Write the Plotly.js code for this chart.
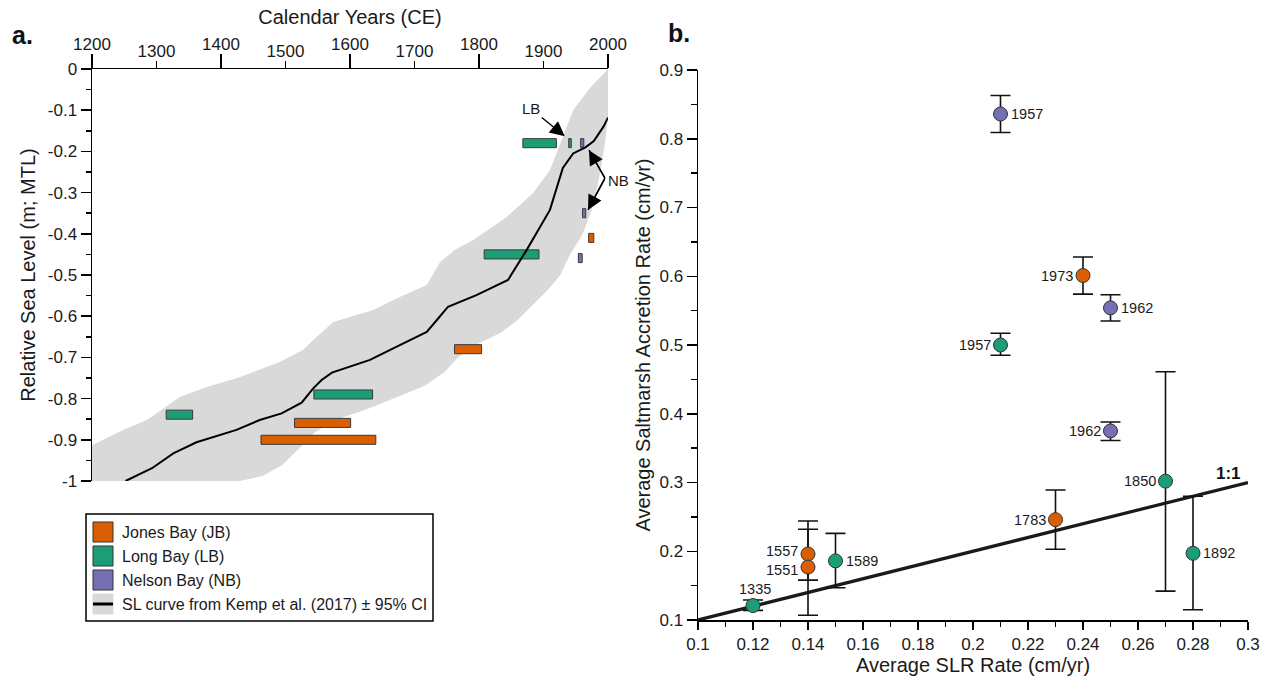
<!DOCTYPE html>
<html><head><meta charset="utf-8">
<script src="https://cdn.plot.ly/plotly-3.0.1.min.js"></script>
<style>html,body{margin:0;padding:0;background:#fff}#chart{width:1270px;height:681px}</style>
</head><body><div id="chart"></div>
<script>
// ---------- Panel a: Kemp et al. (2017) sea-level curve with 95% CI ----------
const curveYears = [1252,1293,1326,1362,1424,1460,1494,1525,1543,1556,1572,1631,1667,1719,1737,1752,1796,1833,1845,1874,1910,1930,1946,1965,1978,1993,2000];
const curveRSL   = [-1.0,-0.969,-0.933,-0.906,-0.876,-0.852,-0.836,-0.810,-0.775,-0.755,-0.737,-0.706,-0.678,-0.638,-0.605,-0.577,-0.549,-0.520,-0.512,-0.439,-0.342,-0.24,-0.205,-0.19,-0.175,-0.14,-0.118];
const ciUpperYears = [1200,1248,1285,1336,1378,1429,1491,1527,1543,1574,1636,1678,1719,1740,1763,1791,1843,1884,1910,1926,1946,1972,2000];
const ciUpperRSL   = [-0.913,-0.876,-0.852,-0.796,-0.772,-0.748,-0.711,-0.682,-0.658,-0.614,-0.585,-0.553,-0.524,-0.468,-0.439,-0.415,-0.359,-0.301,-0.245,-0.180,-0.100,-0.046,0];
const ciLowerYears = [1200,1429,1464,1495,1522,1546,1577,1631,1678,1716,1747,1767,1794,1833,1860,1887,1907,1926,1941,1960,1974,1983,1989,1995,2000];
const ciLowerRSL   = [-1.0,-1.0,-0.988,-0.961,-0.920,-0.881,-0.852,-0.823,-0.794,-0.769,-0.735,-0.701,-0.670,-0.641,-0.609,-0.566,-0.536,-0.500,-0.451,-0.403,-0.345,-0.289,-0.240,-0.184,-0.119];

// Site sea-level index bars (age range, RSL)
const jbStart = [1462,1514,1762,1970];
const jbEnd   = [1640,1601,1804,1978];
const jbRSL   = [-0.900,-0.859,-0.680,-0.410];
const lbStart = [1315,1544,1808,1868,1939];
const lbEnd   = [1356,1635,1893,1920,1943];
const lbRSL   = [-0.839,-0.790,-0.450,-0.180,-0.180];
const nbStart = [1957.5,1960.5,1954];
const nbEnd   = [1962.5,1965.5,1960];
const nbRSL   = [-0.180,-0.350,-0.459];

// Panel a tick labels
const yearTicksMajor = [1200,1400,1600,1800,2000];
const yearTicksMinor = [1300,1500,1700,1900];
const rslTickVals = [0,-0.1,-0.2,-0.3,-0.4,-0.5,-0.6,-0.7,-0.8,-0.9,-1];
const rslTickText = ['0','-0.1','-0.2','-0.3','-0.4','-0.5','-0.6','-0.7','-0.8','-0.9','-1'];

// ---------- Panel b: SLR rate vs accretion rate ----------
const jbSLR   = [0.14,0.14,0.23,0.24];
const jbAcc   = [0.196,0.177,0.246,0.601];
const jbErrUp = [0.048,0.055,0.043,0.027];
const jbErrDn = [0.038,0.070,0.043,0.027];
const jbLabel = ['1557','1551','1783','1973'];
const jbPos   = ['middle left','middle left','middle left','middle left'];

const lbSLR   = [0.12,0.15,0.21,0.27,0.28];
const lbAcc   = [0.121,0.186,0.500,0.302,0.197];
const lbErrUp = [0.008,0.040,0.017,0.159,0.083];
const lbErrDn = [0.007,0.039,0.015,0.160,0.082];
const lbLabel = ['1335','1589','1957','1850','1892'];
const lbPos   = ['top center','middle right','middle left','middle left','middle right'];

const nbSLR   = [0.21,0.25,0.25];
const nbAcc   = [0.836,0.554,0.375];
const nbErrUp = [0.027,0.019,0.013];
const nbErrDn = [0.027,0.019,0.014];
const nbLabel = ['1957','1962','1962'];
const nbPos   = ['middle right','middle right','middle left'];

const oneToOneX = [0.1,0.3];
const oneToOneY = [0.1,0.3];

const legendLabels = ['Jones Bay (JB)','Long Bay (LB)','Nelson Bay (NB)','SL curve from Kemp et al. (2017) \u00b1 95% CI'];

// ---------- styling ----------
const C_JB = '#D95F02', C_LB = '#1B9E77', C_NB = '#7570B3', C_CI = '#D9D9D9';
const FONT = 'Liberation Sans, Arial, sans-serif';
const W = 1270, H = 681;
const px = x => x / W, py = y => 1 - y / H;
const BAR_HALF = 0.011;

const traces = [];
traces.push({
  type:'scatter', mode:'lines', name:'95% CI',
  x: ciUpperYears.concat(ciLowerYears.slice().reverse()),
  y: ciUpperRSL.concat(ciLowerRSL.slice().reverse()),
  fill:'toself', fillcolor:C_CI, line:{width:0, color:C_CI},
  xaxis:'x', yaxis:'y', hoverinfo:'skip', showlegend:false
});
function rectTrace(name, s, e, y, color){
  const xs = [], ys = [];
  s.forEach((v,i)=>{
    xs.push(v, e[i], e[i], v, v, null);
    ys.push(y[i]-BAR_HALF, y[i]-BAR_HALF, y[i]+BAR_HALF, y[i]+BAR_HALF, y[i]-BAR_HALF, null);
  });
  return {type:'scatter', mode:'lines', name:name, x:xs, y:ys, fill:'toself', fillcolor:color,
    line:{color:'#3a3a3a', width:1}, connectgaps:false, xaxis:'x', yaxis:'y', showlegend:false};
}
traces.push(rectTrace('Jones Bay (JB)', jbStart, jbEnd, jbRSL, C_JB));
traces.push(rectTrace('Long Bay (LB)', lbStart, lbEnd, lbRSL, C_LB));
traces.push(rectTrace('Nelson Bay (NB)', nbStart, nbEnd, nbRSL, C_NB));
traces.push({
  type:'scatter', mode:'lines', name:'SL curve from Kemp et al. (2017)',
  x: curveYears, y: curveRSL, line:{color:'#000', width:2},
  xaxis:'x', yaxis:'y', showlegend:false
});
// helper trace so the staggered top axis is drawn
traces.push({type:'scatter', mode:'markers', x:[yearTicksMinor[0]], y:[-0.5], marker:{opacity:0},
  xaxis:'x3', yaxis:'y', hoverinfo:'skip', showlegend:false});

traces.push({type:'scatter', mode:'lines', name:'1:1', x:oneToOneX, y:oneToOneY,
  line:{color:'#1a1a1a', width:3.2}, xaxis:'x2', yaxis:'y2', showlegend:false});
function ptTrace(name, x, y, up, dn, color){
  return {type:'scatter', mode:'markers', name:name, x:x, y:y, cliponaxis:false,
    marker:{size:14, color:color, line:{color:'#333', width:1}},
    error_y:{type:'data', symmetric:false, array:up, arrayminus:dn, color:'#111', thickness:1.6, width:10},
    xaxis:'x2', yaxis:'y2', showlegend:false};
}
traces.push(ptTrace('Jones Bay (JB)', jbSLR, jbAcc, jbErrUp, jbErrDn, C_JB));
traces.push(ptTrace('Long Bay (LB)', lbSLR, lbAcc, lbErrUp, lbErrDn, C_LB));
traces.push(ptTrace('Nelson Bay (NB)', nbSLR, nbAcc, nbErrUp, nbErrDn, C_NB));

const axBase = {showgrid:false, zeroline:false, showline:true, linecolor:'#000', linewidth:1.5,
  ticks:'outside', tickcolor:'#000', tickwidth:1.5, tickfont:{size:17, color:'#1a1a1a', family:FONT}};

// legend (drawn box)
const legY = [532,556,580,604];
const legColors = [C_JB, C_LB, C_NB, C_CI];
const shapes = [{type:'rect', xref:'paper', yref:'paper', x0:px(86), x1:px(433), y0:py(621), y1:py(514),
  line:{color:'#000', width:1.5}, fillcolor:'#fff', layer:'above'}];
const annotations = [];
legY.forEach((yc,i)=>{
  shapes.push({type:'rect', xref:'paper', yref:'paper', x0:px(93), x1:px(113), y0:py(yc+10), y1:py(yc-10),
    fillcolor:legColors[i], line:{color: i<3 ? '#333' : C_CI, width:1}, layer:'above'});
  annotations.push({xref:'paper', yref:'paper', x:px(120), y:py(yc), xanchor:'left', yanchor:'middle',
    text:legendLabels[i], showarrow:false, font:{size:16, color:'#1a1a1a', family:FONT}});
});
shapes.push({type:'line', xref:'paper', yref:'paper', x0:px(93), x1:px(113), y0:py(604), y1:py(604),
  line:{color:'#000', width:3}, layer:'above'});

// NB pointer: two arrows from one vertex next to the "NB" label
const nbVertex = {x:1995.3, y:-0.265};
const nbTips = [{x:1970.5, y:-0.197}, {x:1969, y:-0.342}];
nbTips.forEach(t=>{
  shapes.push({type:'line', xref:'x', yref:'y', x0:nbVertex.x, y0:nbVertex.y, x1:t.x, y1:t.y,
    line:{color:'#000', width:1.4}, layer:'above'});
});

// point labels for panel b
function addLabels(xs, ys, labs, pos, shifts){
  labs.forEach((t,i)=>{
    const a = {xref:'x2', yref:'y2', x:xs[i], y:ys[i], text:t, showarrow:false,
      font:{size:14.5, color:'#1a1a1a', family:FONT}, yanchor:'middle', xanchor:'center',
      yshift: shifts ? shifts[i] : 0};
    if(pos[i]==='middle left'){ a.xanchor='right'; a.xshift=-8; }
    else if(pos[i]==='middle right'){ a.xanchor='left'; a.xshift=8; }
    else if(pos[i]==='top center'){ a.yanchor='bottom'; a.yshift=7; a.xshift=2; }
    annotations.push(a);
  });
}
addLabels(jbSLR, jbAcc, jbLabel, jbPos, [3,-3,0,0]);
addLabels(lbSLR, lbAcc, lbLabel, lbPos);
addLabels(nbSLR, nbAcc, nbLabel, nbPos);

annotations.push({xref:'paper', yref:'paper', x:px(22), y:py(35), xanchor:'center', yanchor:'middle',
  text:'<b>a.</b>', showarrow:false, font:{size:25, color:'#111', family:FONT}});
annotations.push({xref:'paper', yref:'paper', x:px(679), y:py(33), xanchor:'center', yanchor:'middle',
  text:'<b>b.</b>', showarrow:false, font:{size:25, color:'#111', family:FONT}});
annotations.push({xref:'x', yref:'y', x:1933, y:-0.163, axref:'x', ayref:'y', ax:1881, ay:-0.097,
  text:'LB', showarrow:true, arrowhead:2, arrowsize:2.1, arrowwidth:1.4, arrowcolor:'#000',
  font:{size:15, color:'#1a1a1a', family:FONT}});
annotations.push({xref:'paper', yref:'paper', x:px(618), y:py(180), xanchor:'center', yanchor:'middle',
  text:'NB', showarrow:false, font:{size:15, color:'#1a1a1a', family:FONT}});
nbTips.forEach(t=>{
  annotations.push({xref:'x', yref:'y', x:t.x, y:t.y, axref:'x', ayref:'y', ax:nbVertex.x, ay:nbVertex.y,
    text:' ', font:{size:1}, borderpad:0, showarrow:true, arrowhead:2, arrowsize:2.1, arrowwidth:1.4, arrowcolor:'#000'});
});
annotations.push({xref:'x2', yref:'y2', x:0.293, y:0.313, xanchor:'center', yanchor:'middle',
  text:'<b>1:1</b>', showarrow:false, font:{size:17, color:'#111', family:FONT}});

const layout = {
  width:W, height:H, margin:{l:0,r:0,t:0,b:0}, paper_bgcolor:'#fff', plot_bgcolor:'rgba(0,0,0,0)',
  font:{family:FONT, color:'#1a1a1a'}, showlegend:false,
  xaxis: Object.assign({}, axBase, {domain:[px(92), px(608)], range:[1200,2000], side:'top', anchor:'y',
    tickmode:'array', tickvals:yearTicksMajor, ticklen:14, ticklabelstandoff:-3,
    title:{text:'Calendar Years (CE)', font:{size:20, family:FONT}, standoff:4}}),
  xaxis3: Object.assign({}, axBase, {overlaying:'x', range:[1200,2000], side:'top', anchor:'y',
    tickmode:'array', tickvals:yearTicksMinor, ticklen:7, ticklabelstandoff:-3, showline:false}),
  yaxis: Object.assign({}, axBase, {domain:[py(481), py(69)], range:[-1,0], anchor:'x',
    tickmode:'array', tickvals:rslTickVals, ticktext:rslTickText, ticklen:10,
    minor:{dtick:0.05, tick0:0, ticks:'outside', ticklen:5, tickcolor:'#000', tickwidth:1.5},
    title:{text:'Relative Sea Level (m; MTL)', font:{size:20, family:FONT}, standoff:7}}),
  xaxis2: Object.assign({}, axBase, {domain:[px(698), px(1248)], range:[0.1,0.3], anchor:'y2',
    tick0:0.1, dtick:0.02, ticklen:8,
    minor:{dtick:0.01, tick0:0.1, ticks:'outside', ticklen:5, tickcolor:'#000', tickwidth:1.5},
    title:{text:'Average SLR Rate (cm/yr)', font:{size:20, family:FONT}, standoff:4}}),
  yaxis2: Object.assign({}, axBase, {domain:[py(620), py(70)], range:[0.1,0.9], anchor:'x2',
    tick0:0.1, dtick:0.1, ticklen:10,
    minor:{dtick:0.05, tick0:0.1, ticks:'outside', ticklen:6, tickcolor:'#000', tickwidth:1.5},
    title:{text:'Average Saltmarsh Accretion Rate (cm/yr)', font:{size:20, family:FONT}, standoff:3}}),
  shapes: shapes,
  annotations: annotations
};

Plotly.newPlot('chart', traces, layout, {displayModeBar:false, responsive:false, staticPlot:true});
</script>
</body></html>
